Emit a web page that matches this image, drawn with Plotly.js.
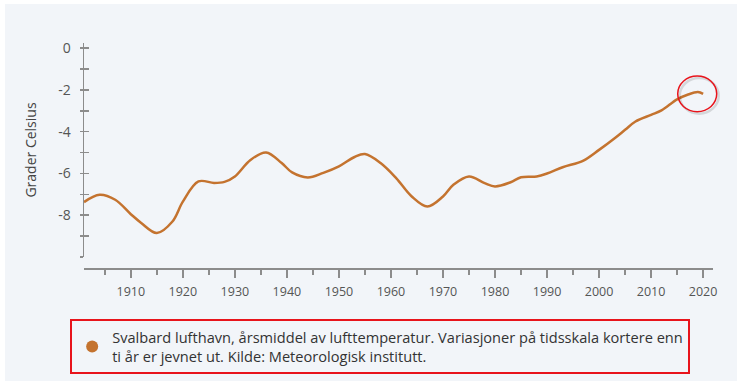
<!DOCTYPE html>
<html>
<head>
<meta charset="utf-8">
<script src="https://cdn.plot.ly/plotly-3.0.1.min.js"></script>
<style>
html,body{margin:0;padding:0;background:#ffffff;}
#chart{width:742px;height:381px;}
</style>
</head>
<body>
<div id="chart"></div>
<script>
// Data
const years = [1901,1904,1907,1910,1912,1915,1918,1920,1923,1926,1928,1930,1933,1936,1939,1941,1944,1947,1950,1953,1955,1958,1961,1964,1967,1970,1972,1975,1978,1980,1983,1985,1988,1990,1993,1997,2000,2003,2005,2007,2010,2012,2015,2017,2019,2020];
const temps = [-7.37,-7.02,-7.26,-7.95,-8.37,-8.85,-8.3,-7.35,-6.38,-6.45,-6.4,-6.14,-5.35,-4.99,-5.5,-5.95,-6.19,-5.97,-5.66,-5.21,-5.07,-5.5,-6.22,-7.1,-7.58,-7.1,-6.54,-6.14,-6.46,-6.62,-6.42,-6.18,-6.14,-6.0,-5.7,-5.38,-4.87,-4.31,-3.91,-3.51,-3.19,-2.98,-2.45,-2.23,-2.1,-2.19];
const yTickVals = [-10,-9,-8,-7,-6,-5,-4,-3,-2,-1,0];
const yTickText = ['','','-8','','-6','','-4','','-2','','0'];
const seriesName = 'Svalbard lufthavn, årsmiddel av lufttemperatur. Variasjoner på tidsskala kortere enn<br>ti år er jevnet ut. Kilde: Meteorologisk institutt.';
const yTitle = 'Grader Celsius';

const lineColor = '#c4732f';
const axisColor = '#8c8c8c';
const font = '"Open Sans", "DejaVu Sans", sans-serif';

const traces = [
  {
    x: years, y: temps, type: 'scatter', mode: 'lines',
    line: {color: lineColor, width: 2.5, shape: 'spline', smoothing: 1},
    showlegend: false, hoverinfo: 'x+y'
  },
  {
    x: [null], y: [null], type: 'scatter', mode: 'markers',
    marker: {color: lineColor, size: 12, symbol: 'circle'},
    name: seriesName, showlegend: true
  },
  {
    x: [null], y: [null], type: 'scatter', mode: 'markers', yaxis: 'y2',
    showlegend: false, hoverinfo: 'skip'
  }
];

const layout = {
  width: 742, height: 381,
  margin: {l: 84, r: 29, t: 43, b: 113, autoexpand: false},
  paper_bgcolor: '#ffffff',
  plot_bgcolor: 'rgba(0,0,0,0)',
  font: {family: font, color: '#555555', size: 12},
  xaxis: {
    range: [1901, 2021.9],
    anchor: 'free', position: 0,
    showgrid: false, zeroline: false,
    showline: true, linecolor: axisColor, linewidth: 1.5,
    tickmode: 'linear', tick0: 1910, dtick: 10,
    ticks: 'outside', ticklen: 8, tickwidth: 1.5, tickcolor: axisColor,
    minor: {tickmode: 'linear', tick0: 1905, dtick: 5, ticks: 'outside', ticklen: 5, tickwidth: 1.5, tickcolor: axisColor, showgrid: false},
    tickfont: {size: 12.5, color: '#555555', family: font},
    ticklabelstandoff: 3,
    fixedrange: true
  },
  yaxis: {
    domain: [0.0489, 1],
    range: [-10, 0.25],
    showgrid: false, zeroline: false,
    showline: true, linecolor: axisColor, linewidth: 1.5,
    tickmode: 'array', tickvals: yTickVals, ticktext: yTickText,
    ticks: 'outside', ticklen: 3, tickwidth: 1.5, tickcolor: axisColor,
    tickfont: {size: 14, color: '#555555', family: font},
    ticklabelstandoff: 6,
    title: {text: yTitle, font: {size: 14, color: '#444444', family: font}, standoff: 18},
    fixedrange: true
  },
  yaxis2: {
    overlaying: 'y', anchor: 'x', side: 'left',
    domain: [0.0489, 1],
    range: [-10, 0.25],
    showgrid: false, zeroline: false, showline: false,
    tickmode: 'array', tickvals: yTickVals, ticktext: yTickText,
    showticklabels: false,
    ticks: 'inside', ticklen: 5, tickwidth: 1.5, tickcolor: axisColor,
    fixedrange: true
  },
  legend: {
    x: -0.022, y: -0.227, xanchor: 'left', yanchor: 'top',
    orientation: 'v',
    itemwidth: 30,
    bgcolor: 'rgba(0,0,0,0)',
    bordercolor: '#e8141c', borderwidth: 2,
    font: {size: 14.6, color: '#333333', family: font},
    itemclick: false, itemdoubleclick: false
  },
  shapes: [
    {type: 'rect', xref: 'paper', yref: 'paper', layer: 'below',
     x0: -0.1256, x1: 1.0382, y0: -0.52, y1: 1.1733,
     fillcolor: '#f2f5f9', line: {width: 0}},
    {type: 'circle', xref: 'paper', yref: 'paper', layer: 'above',
     x0: 0.9471, x1: 1.0091, y0: 0.6860, y1: 0.8444,
     line: {color: 'rgba(0,0,0,0.12)', width: 2.5}},
    {type: 'circle', xref: 'paper', yref: 'paper', layer: 'above',
     x0: 0.9439, x1: 1.0059, y0: 0.6947, y1: 0.8533,
     line: {color: '#e8141c', width: 1.5}}
  ]
};

Plotly.newPlot('chart', traces, layout, {displayModeBar: false, staticPlot: true});
</script>
</body>
</html>
